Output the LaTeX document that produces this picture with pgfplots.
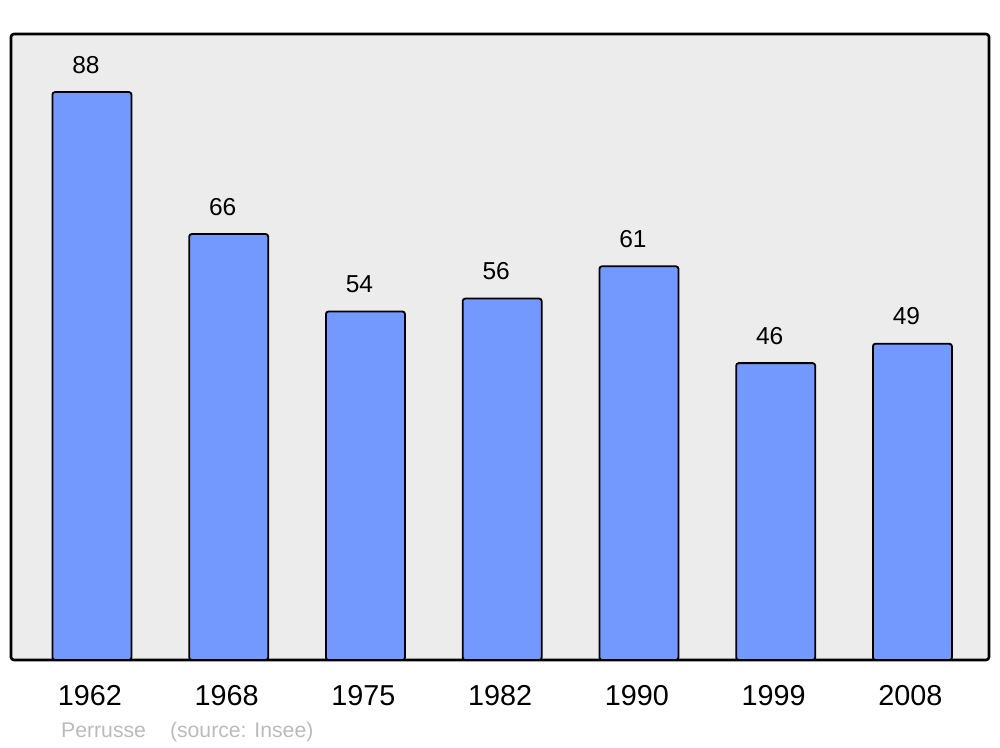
\documentclass[border=0pt]{standalone}
\usepackage{pgfplots}
\pgfplotsset{compat=1.18}
\usepackage{fontspec}
\setmainfont{Liberation Sans}
\definecolor{barc}{RGB}{115,153,255}
\definecolor{bgc}{RGB}{236,236,236}
\definecolor{srcc}{RGB}{187,187,187}
\begin{document}
\begin{tikzpicture}
\useasboundingbox (0,0) rectangle (1000pt,747pt);
\begin{axis}[
  at={(11pt,87pt)}, anchor=south west,
  scale only axis, width=978pt, height=626pt,
  xmin=-0.592, xmax=6.56, ymin=0, ymax=97,
  axis background/.style={fill=bgc, rounded corners=3pt},
  axis line style={line width=2.6pt, rounded corners=3pt},
  ytick=\empty,
  xtick={0,1,2,3,4,5,6},
  xticklabels={1962,1968,1975,1982,1990,1999,2008},
  major tick length=0pt,
  xticklabel style={font=\fontsize{28.8}{30}\selectfont, anchor=base, yshift=-45pt, xshift=-2pt},
  ybar, bar width=79pt, bar shift=0pt,
  nodes near coords,
  /pgf/number format/assume math mode=true,
  every node near coord/.append style={font=\fontsize{24.5}{26}\selectfont, anchor=base, yshift=19pt, xshift=-6pt, text=black},
  clip=false,
]
\addplot[fill=barc, draw=black, line width=1.8pt, rounded corners=2.5pt] coordinates {
 (0,88) (1,66) (2,54) (3,56) (4,61) (5,46) (6,49)
};
\end{axis}
\node[anchor=base west, text=srcc, font=\fontsize{21.2}{23}\selectfont, inner sep=0pt] at (61pt,10pt) {Perrusse\hspace{24pt}(source: Insee)};
\end{tikzpicture}
\end{document}
